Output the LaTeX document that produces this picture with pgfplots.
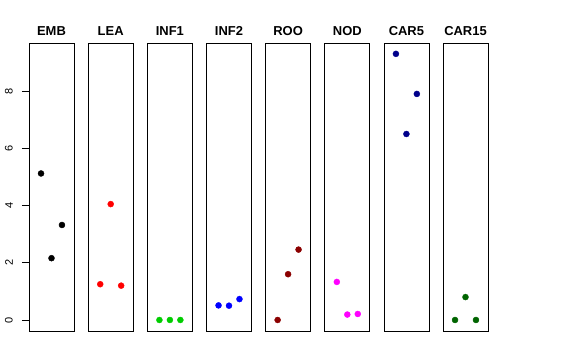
\documentclass[border=0pt]{standalone}
\usepackage{pgfplots}
\pgfplotsset{compat=1.18}
\usepackage{fontspec}
\setmainfont{Liberation Sans}
\definecolor{rgreen}{HTML}{00CD00}
\definecolor{rdarkred}{HTML}{8B0000}
\definecolor{rnavy}{HTML}{00008B}
\definecolor{rdarkgreen}{HTML}{006400}
\definecolor{rmagenta}{HTML}{FF00FF}
\pgfplotsset{
  panel/.style={
    scale only axis, width=45bp, height=288bp,
    xmin=-0.15, xmax=4.15, ymin=-0.385, ymax=9.68,
    xtick=\empty, ytick=\empty,
    axis line style={black, line width=0.75bp},
    title style={font=\fontsize{13}{13}\selectfont\bfseries, yshift=-2bp},
    anchor=south west,
  },
  pts/.style={only marks, mark=*, mark size=3bp, mark options={draw=#1, fill=#1}},
}
\begin{document}
\begin{tikzpicture}
\useasboundingbox (0,0) rectangle (576bp,360bp);
\begin{axis}[panel, at={(29bp,29bp)}, title={EMB},
  ytick={0,2,4,6,8}, yticklabels={0,2,4,6,8},
  yticklabel style={xshift=-9bp, rotate=90, font=\fontsize{11}{11}\selectfont, anchor=south, inner sep=0pt},
  tick align=outside, major tick length=7bp, tick style={black, line width=0.75bp},
  yticklabel pos=left, ytick pos=left]
\addplot[pts=black] coordinates {(1,5.12) (2,2.16) (3,3.32)};
\end{axis}
\begin{axis}[panel, at={(88.2bp,29bp)}, title={LEA}]
\addplot[pts=red] coordinates {(1,1.25) (2,4.05) (3,1.20)};
\end{axis}
\begin{axis}[panel, at={(147.4bp,29bp)}, title={INF1}]
\addplot[pts=rgreen] coordinates {(1,0) (2,0) (3,0)};
\end{axis}
\begin{axis}[panel, at={(206.5bp,29bp)}, title={INF2}]
\addplot[pts=blue] coordinates {(1,0.51) (2,0.50) (3,0.73)};
\end{axis}
\begin{axis}[panel, at={(265.6bp,29bp)}, title={ROO}]
\addplot[pts=rdarkred] coordinates {(1,0) (2,1.60) (3,2.46)};
\end{axis}
\begin{axis}[panel, at={(324.8bp,29bp)}, title={NOD}]
\addplot[pts=rmagenta] coordinates {(1,1.33) (2,0.19) (3,0.21)};
\end{axis}
\begin{axis}[panel, at={(383.9bp,29bp)}, title={CAR5}]
\addplot[pts=rnavy] coordinates {(1,9.30) (2,6.50) (3,7.90)};
\end{axis}
\begin{axis}[panel, at={(443bp,29bp)}, title={CAR15}]
\addplot[pts=rdarkgreen] coordinates {(1,0) (2,0.80) (3,0)};
\end{axis}
\end{tikzpicture}
\end{document}
